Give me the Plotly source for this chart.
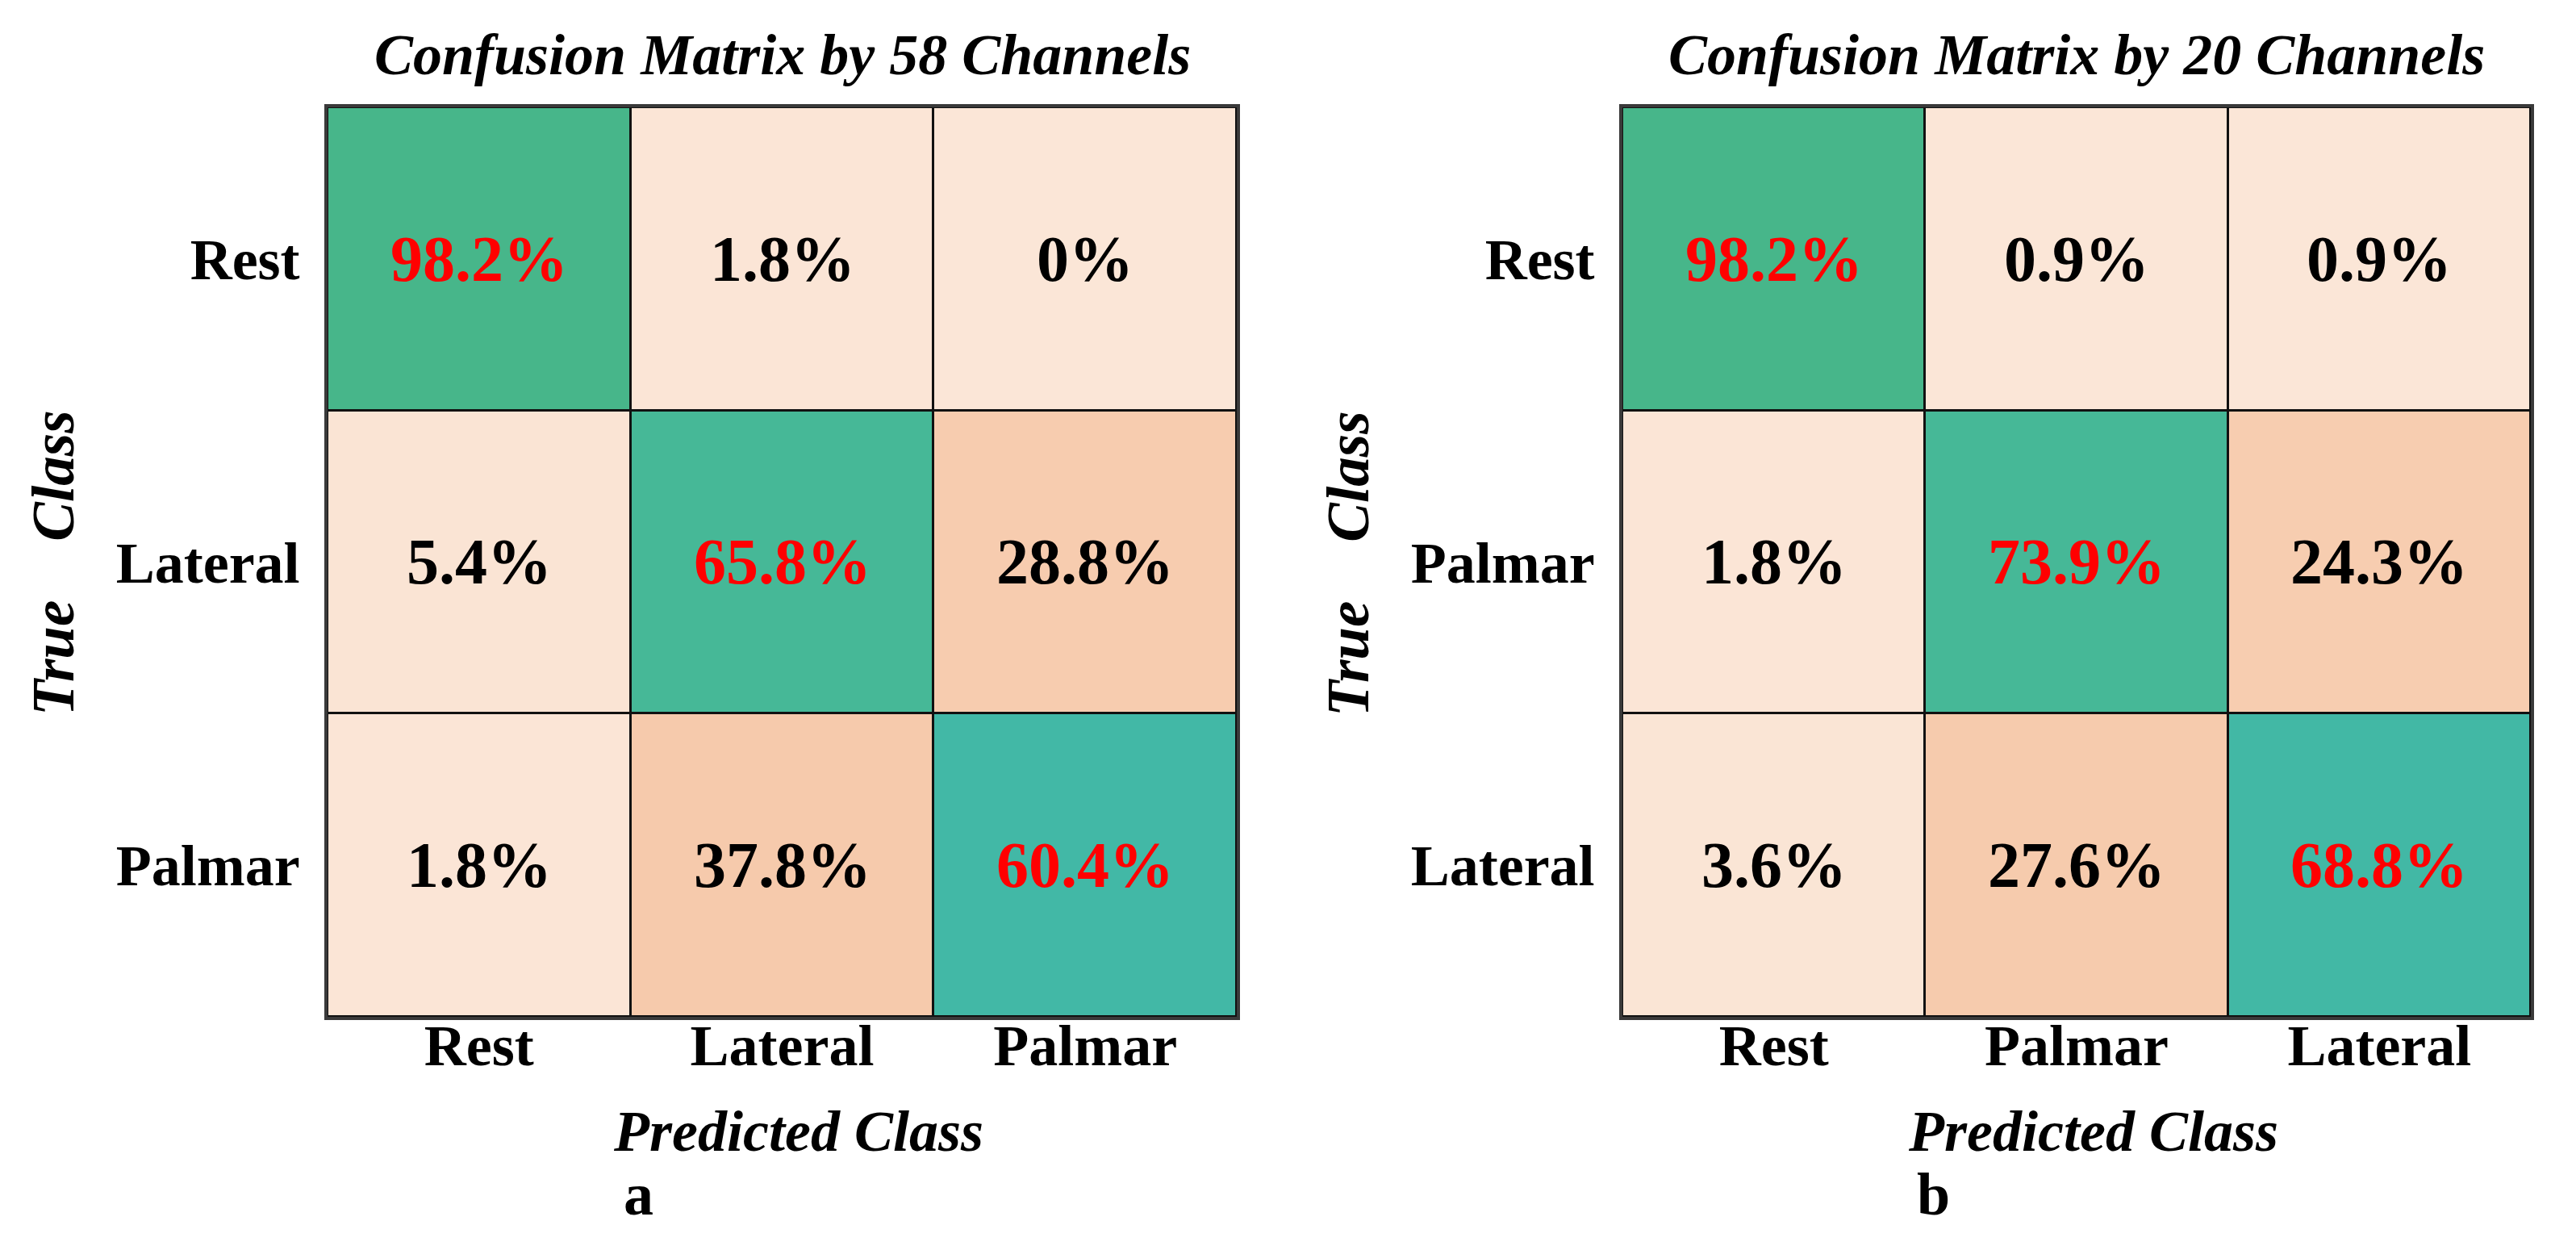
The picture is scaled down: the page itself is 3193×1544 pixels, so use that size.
import plotly.graph_objects as go

# ---------------- data ----------------
labels_a = ["Rest", "Lateral", "Palmar"]
values_a = [[98.2, 1.8, 0.0],
            [5.4, 65.8, 28.8],
            [1.8, 37.8, 60.4]]
title_a = "Confusion Matrix by 58 Channels"

labels_b = ["Rest", "Palmar", "Lateral"]
values_b = [[98.2, 0.9, 0.9],
            [1.8, 73.9, 24.3],
            [3.6, 27.6, 68.8]]
title_b = "Confusion Matrix by 20 Channels"

panel_letters = ["a", "b"]
x_title = "Predicted Class"
y_title = "True\u00a0\u00a0\u00a0\u00a0Class"

# per-panel colour scales (value / 100)
scale_a = [[0.0, "#FBE6D7"], [0.06, "#FAE4D4"], [0.25, "#F7CDB0"], [0.40, "#F6C9AB"],
           [0.59, "#42B8A7"], [0.61, "#42B8A6"], [0.65, "#46B897"], [0.99, "#47B68A"], [1.0, "#47B68A"]]
scale_b = [[0.0, "#FBE6D7"], [0.06, "#FAE4D4"], [0.24, "#F7CDB0"], [0.30, "#F6C9AB"],
           [0.68, "#42B8A6"], [0.70, "#43B8A4"], [0.73, "#46B897"], [0.99, "#47B68A"], [1.0, "#47B68A"]]

W, H = 3193, 1544
FONT = "Liberation Serif, Times New Roman, serif"

def px(x):
    return x / W

def py(y):
    return 1 - y / H

fig = go.Figure()

panels = [
    dict(labels=labels_a, values=values_a, title=title_a, scale=scale_a, xa="x", ya="y",
         dom=(398, 1525), letter=panel_letters[0]),
    dict(labels=labels_b, values=values_b, title=title_b, scale=scale_b, xa="x2", ya="y2",
         dom=(2003, 3129), letter=panel_letters[1]),
]

ydom = [py(1252), py(125)]
annotations = []

for i, p in enumerate(panels):
    fig.add_trace(go.Heatmap(
        z=p["values"], x=p["labels"], y=p["labels"],
        zmin=0, zmax=100, colorscale=p["scale"], showscale=False,
        xgap=3, ygap=3, hoverinfo="skip",
        xaxis=p["xa"], yaxis=p["ya"]))
    # cell texts
    for r, rl in enumerate(p["labels"]):
        for c, cl in enumerate(p["labels"]):
            v = p["values"][r][c]
            txt = ("%g" % v) + "%"
            annotations.append(dict(
                x=cl, y=rl, xref=p["xa"], yref=p["ya"], text=txt, showarrow=False,
                font=dict(family=FONT, size=80, color="#FF0000" if r == c else "#000000",
                          weight="bold")))
    x0, x1 = p["dom"]
    cx = (x0 + x1) / 2
    # title
    annotations.append(dict(x=px(cx), y=py(60), xref="paper", yref="paper", text=p["title"],
                            showarrow=False, xanchor="center", yanchor="middle",
                            font=dict(family=FONT, size=72, color="black", weight="bold", style="italic")))
    # x title
    annotations.append(dict(x=px(cx + 20), y=py(1394), xref="paper", yref="paper", text=x_title,
                            showarrow=False, xanchor="center", yanchor="middle",
                            font=dict(family=FONT, size=72, color="black", weight="bold", style="italic")))
    # y title
    annotations.append(dict(x=px(x0 - 340), y=py(690), xref="paper", yref="paper", text=y_title,
                            showarrow=False, xanchor="center", yanchor="middle", textangle=-90,
                            font=dict(family=FONT, size=73, color="black", weight="bold", style="italic")))
    # panel letter
    annotations.append(dict(x=px(cx - 178), y=py(1472), xref="paper", yref="paper", text=p["letter"],
                            showarrow=False, xanchor="center", yanchor="middle",
                            font=dict(family=FONT, size=74, color="black", weight="bold")))

axis_common = dict(showline=True, mirror=True, linecolor="#3a3a3a", linewidth=4,
                   showgrid=False, zeroline=False, ticks="",
                   tickfont=dict(family=FONT, size=72, color="black", weight="bold"))

fig.update_layout(
    width=W, height=H,
    margin=dict(l=0, r=0, t=0, b=0),
    paper_bgcolor="white", plot_bgcolor="#111111",
    showlegend=False,
    annotations=annotations,
    xaxis=dict(domain=[px(398), px(1525)], anchor="y", side="bottom", ticklabelstandoff=-30, **axis_common),
    yaxis=dict(domain=ydom, anchor="x", autorange="reversed", ticklabelstandoff=16, **axis_common),
    xaxis2=dict(domain=[px(2003), px(3129)], anchor="y2", side="bottom", ticklabelstandoff=-30, **axis_common),
    yaxis2=dict(domain=ydom, anchor="x2", autorange="reversed", ticklabelstandoff=16, **axis_common),
)

fig.write_html("out.html")
